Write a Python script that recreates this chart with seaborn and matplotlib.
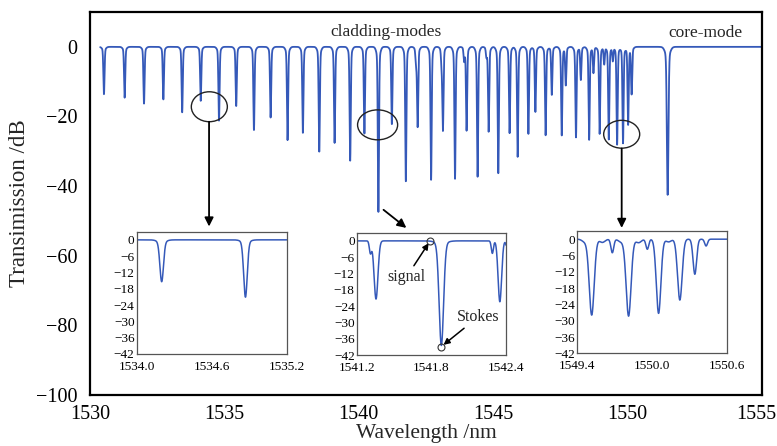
import numpy as np
import pandas as pd
import matplotlib
matplotlib.use("Agg")
import matplotlib.pyplot as plt
import matplotlib.transforms as mtransforms
import seaborn as sns
from matplotlib.patches import Ellipse

# ---------------- data ----------------
# main spectrum: dip centres (nm), depths (dB), widths (nm)
MAIN_CENTERS = [1530.52, 1531.29, 1532.01, 1532.73, 1533.43, 1534.12, 1534.80, 1535.44,
                1536.10, 1536.72, 1537.35, 1537.92, 1538.53, 1539.10, 1539.68, 1540.21,
                1540.73, 1541.23, 1541.75, 1542.13, 1542.19, 1542.69, 1543.08, 1543.13,
                1543.58, 1543.92, 1544.01, 1544.42, 1544.75, 1544.83, 1545.19, 1545.61,
                1545.91, 1546.31, 1546.57, 1546.95, 1547.18, 1547.55, 1547.70, 1548.08,
                1548.26, 1548.57, 1548.73, 1548.96, 1549.13, 1549.30, 1549.45, 1549.61,
                1549.83, 1550.02, 1550.15, 1551.49]
MAIN_DEPTHS = [-13.6, -14.6, -16.3, -15.1, -18.8, -15.5, -21.2, -17.0,
               -23.9, -20.3, -26.8, -24.7, -30.1, -27.6, -32.7, -24.9,
               -47.4, -22.2, -38.6, -4.6, -22.8, -38.2, -4.3, -23.7,
               -37.9, -3.8, -24.0, -37.3, -2.5, -24.3, -36.3, -24.8,
               -31.6, -25.0, -18.7, -25.4, -13.8, -25.4, -11.0, -26.0,
               -9.5, -26.7, -7.5, -25.0, -5.0, -26.6, -4.0, -28.1,
               -27.7, -22.3, -13.5, -42.5]
MAIN_WIDTHS = [0.03] * 51 + [0.04]

# inset 1: 1534.0 - 1535.2 nm
IN1_CENTERS = [1534.20, 1534.20, 1534.87, 1534.87]
IN1_DEPTHS = [-14.4, -1.0, -20.1, -1.0]
IN1_WIDTHS = [0.020, 0.045, 0.020, 0.045]

# inset 2: 1541.2 - 1542.4 nm
IN2_CENTERS = [1541.31, 1541.355, 1541.88, 1541.88, 1542.29, 1542.35, 1542.405]
IN2_DEPTHS = [-4.5, -21.4, -37.5, -1.0, -4.6, -22.4, -2.0]
IN2_WIDTHS = [0.012, 0.022, 0.025, 0.06, 0.012, 0.020, 0.010]

# inset 3: 1549.4 - 1550.6 nm
IN3_CENTERS = [1549.46, 1549.515, 1549.60, 1549.68, 1549.75, 1549.81, 1549.89, 1549.96,
               1550.05, 1550.13, 1550.22, 1550.34, 1550.43]
IN3_DEPTHS = [-1.0, -27.9, -1.2, -5.0, -1.0, -28.3, -1.3, -3.7,
              -27.3, -1.0, -22.4, -12.9, -2.5]
IN3_WIDTHS = [0.03, 0.028, 0.03, 0.016, 0.03, 0.028, 0.03, 0.016,
              0.026, 0.03, 0.026, 0.020, 0.016]

# axis ranges / ticks
MAIN_XTICKS = [1530, 1535, 1540, 1545, 1550, 1555]
MAIN_YTICKS = [0, -20, -40, -60, -80, -100]
INSET_YTICKS = [0, -6, -12, -18, -24, -30, -36, -42]
IN1_XTICKS = [1534.0, 1534.6, 1535.2]
IN2_XTICKS = [1541.2, 1541.8, 1542.4]
IN3_XTICKS = [1549.4, 1550.0, 1550.6]

SIGNAL_PT = (1541.79, 0.0)
STOKES_PT = (1541.88, -38.9)

BLUE = "#3559b9"


def spectrum(lam, centers, depths, widths, skirt=0.0):
    y = np.zeros_like(lam)
    for c, d, w in zip(centers, depths, widths):
        y += d * ((1 - skirt) * np.exp(-((lam - c) / w) ** 2)
                  + skirt * np.exp(-((lam - c) / (3 * w)) ** 2))
    return y


sns.set_style("white")
plt.rcParams["font.family"] = ["Liberation Serif", "DejaVu Serif"]
plt.rcParams["axes.unicode_minus"] = True

fig = plt.figure(figsize=(7.77, 4.46), dpi=100)

# ---------------- main axes ----------------
ax = fig.add_axes([0.1158, 0.1143, 0.8649, 0.8587])
lam = np.arange(1530.38, 1555.0, 0.002)
df_main = pd.DataFrame({"wl": lam,
                        "T": spectrum(lam, MAIN_CENTERS, MAIN_DEPTHS, MAIN_WIDTHS, skirt=0.07)})
sns.lineplot(data=df_main, x="wl", y="T", ax=ax, color=BLUE, lw=1.3,
             estimator=None, sort=False)
ax.set_xlim(1530, 1555)
ax.set_ylim(-100, 10)
ax.set_xticks(MAIN_XTICKS)
ax.set_yticks(MAIN_YTICKS)
ax.tick_params(direction="in", length=7, width=1.3, labelsize=14.5, colors="black")
ax.tick_params(axis="y", pad=9)
ax.tick_params(axis="x", pad=7)
for s in ax.spines.values():
    s.set_linewidth(1.6)
    s.set_color("black")
ax.set_xlabel("Wavelength /nm", fontsize=15.5, labelpad=0)
ax.set_ylabel("Transimission /dB", fontsize=16.5, labelpad=4)
# keep the last x tick label inside the canvas
last = ax.xaxis.get_major_ticks()[-1].label1
last.set_transform(last.get_transform()
                   + mtransforms.ScaledTranslation(-0.06, 0, fig.dpi_scale_trans))

ax.text(1541.03, 4.3, "cladding-modes", fontsize=12.5, ha="center", va="center")
ax.text(1552.9, 3.9, "core-mode", fontsize=12.5, ha="center", va="center")

# ellipses + arrows
for (cx, cy, w, h) in [(1534.44, -17.2, 1.34, 8.6), (1540.70, -22.4, 1.49, 8.6),
                       (1549.78, -25.1, 1.34, 8.0)]:
    ax.add_patch(Ellipse((cx, cy), w, h, fill=False, ec="#222222", lw=1.0, zorder=5))

arrow_kw = dict(arrowstyle="-|>", color="black", lw=1.3, mutation_scale=13,
                shrinkA=0, shrinkB=0)
for (x0, y0, x1, y1) in [(1534.43, -21.5, 1534.43, -51.6),
                         (1540.92, -46.8, 1541.77, -52.0),
                         (1549.78, -29.2, 1549.78, -52.0)]:
    ax.annotate("", xy=(x1, y1), xytext=(x0, y0), arrowprops=arrow_kw, zorder=6)


# ---------------- insets ----------------
def make_inset(rect, centers, depths, widths, xticks):
    iax = fig.add_axes(rect)
    l = np.arange(xticks[0], xticks[-1] + 1e-9, 0.001)
    d = pd.DataFrame({"wl": l, "T": spectrum(l, centers, depths, widths)})
    sns.lineplot(data=d, x="wl", y="T", ax=iax, color=BLUE, lw=1.1,
                 estimator=None, sort=False)
    iax.set_xlim(xticks[0], xticks[-1])
    iax.set_ylim(-42, 3)
    iax.set_xticks(xticks)
    iax.set_xticklabels([f"{t:.1f}" for t in xticks])
    iax.set_yticks(INSET_YTICKS)
    iax.tick_params(direction="in", length=3, width=0.8, labelsize=9.5,
                    colors="black")
    iax.tick_params(axis="y", pad=1.5)
    iax.tick_params(axis="x", pad=5)
    for s in iax.spines.values():
        s.set_linewidth(0.9)
        s.set_color("#555555")
    iax.set_xlabel("")
    iax.set_ylabel("")
    iax.set_facecolor("white")
    return iax


make_inset([0.1759, 0.2063, 0.1931, 0.2742], IN1_CENTERS, IN1_DEPTHS, IN1_WIDTHS, IN1_XTICKS)
ax2 = make_inset([0.4591, 0.2040, 0.1922, 0.2742], IN2_CENTERS, IN2_DEPTHS, IN2_WIDTHS, IN2_XTICKS)
make_inset([0.7430, 0.2078, 0.1931, 0.2742], IN3_CENTERS, IN3_DEPTHS, IN3_WIDTHS, IN3_XTICKS)

ax2.plot([SIGNAL_PT[0], STOKES_PT[0]], [SIGNAL_PT[1], STOKES_PT[1]], ls="none",
         marker="o", ms=5, mfc="none", mec="#333333", mew=0.8, clip_on=False, zorder=5)
small_arrow = dict(arrowstyle="-|>", color="black", lw=1.1, mutation_scale=9,
                   shrinkA=0, shrinkB=2)
ax2.annotate("signal", xy=SIGNAL_PT, xytext=(1541.60, -13.3), fontsize=11.5,
             ha="center", va="center", arrowprops=small_arrow)
ax2.annotate("Stokes", xy=STOKES_PT, xytext=(1542.175, -28.0), fontsize=11.5,
             ha="center", va="center", arrowprops=small_arrow)

fig.savefig("out.png", dpi=100)
